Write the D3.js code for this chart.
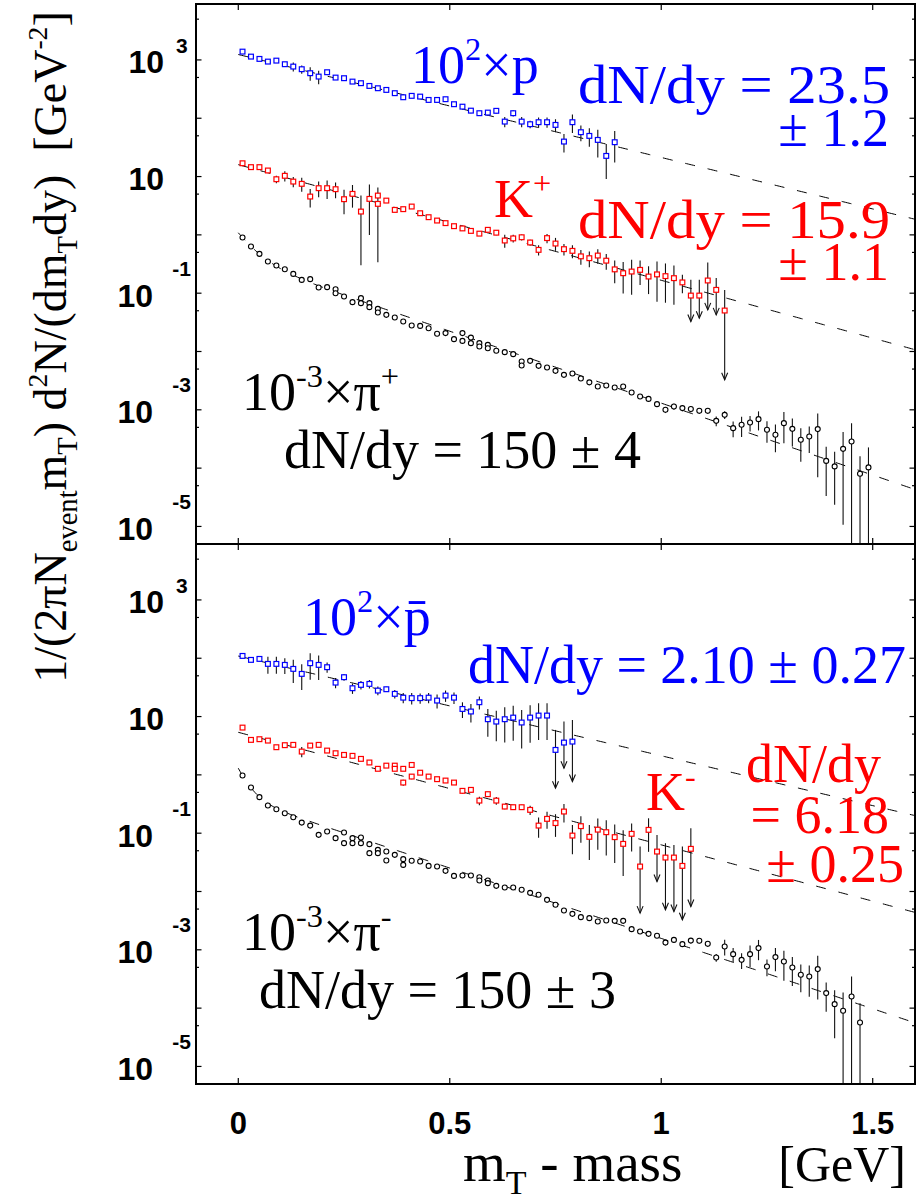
<!DOCTYPE html>
<html>
<head>
<meta charset="utf-8">
<script src="https://cdn.jsdelivr.net/npm/d3@7"></script>
<style>
  html, body { margin: 0; padding: 0; background: #fff; }
  svg { display: block; }
  text { white-space: pre; }
</style>
</head>
<body>
<svg id="chart" width="916" height="1200"></svg>
<script>
// Transverse-mass spectra, [m_T - mass (GeV), yield, relative uncertainty]

const protonRows = [
  [0.01,1388,0.04],[0.03,1140,0.04],[0.05,1041,0.04],[0.07,936,0.05],[0.09,973,0.05],[0.11,844,0.08],
  [0.13,769,0.18],[0.15,693,0.16],[0.17,592,0.26],[0.19,518,0.26],[0.21,615,0.06],[0.23,498,0.06],
  [0.25,486,0.06],[0.27,425,0.06],[0.29,399,0.06],[0.31,358,0.07],[0.33,327,0.08],[0.35,306,0.08],
  [0.37,269,0.08],[0.39,229,0.08],[0.41,242,0.08],[0.43,235,0.08],[0.45,206,0.09],[0.47,206,0.09],
  [0.49,212,0.09],[0.51,174,0.09],[0.53,158,0.1],[0.55,135,0.1],[0.57,122,0.1],[0.59,125,0.1],
  [0.61,134,0.1],[0.63,87.6,0.2],[0.65,122,0.12],[0.67,87.6,0.2],[0.69,79,0.15],[0.71,85.5,0.2],
  [0.73,85.5,0.2],[0.75,76.9,0.25],[0.77,39.8,0.35],[0.79,85.5,0.35],[0.81,57.6,0.3],[0.83,49.8,0.35],
  [0.85,42.5,0.5],[0.87,22.6,0.6],[0.89,38.8,0.55]
];

const kaonPlusRows = [
  [0.01,16.9,0.04],[0.03,14.5,0.04],[0.05,14.5,0.05],[0.07,12.7,0.06],[0.09,9.0,0.15],[0.11,10.3,0.2],
  [0.13,8.2,0.2],[0.15,7.5,0.27],[0.17,4.54,0.35],[0.19,6.32,0.3],[0.21,6.32,0.35],[0.23,6.07,0.3],
  [0.25,4.09,0.45],[0.27,5.05,0.42],[0.29,2.51,0.88],[0.31,4.14,0.76],[0.33,4.72,0.1],[0.33,3.4,0.9],
  [0.35,3.87,0.08],[0.37,2.68,0.08],[0.39,2.76,0.08],[0.41,3.06,0.08],[0.43,2.35,0.08],[0.45,2.01,0.08],
  [0.47,1.76,0.08],[0.49,1.59,0.08],[0.51,1.41,0.08],[0.53,1.29,0.08],[0.55,1.17,0.08],[0.57,1.05,0.08],
  [0.59,1.22,0.08],[0.61,1.09,0.1],[0.63,0.80,0.25],[0.65,0.87,0.15],[0.67,0.91,0.12],[0.69,0.74,0.12],
  [0.71,0.553,0.2],[0.73,0.88,0.18],[0.75,0.71,0.25],[0.77,0.569,0.22],[0.79,0.532,0.25],[0.81,0.428,0.28],
  [0.83,0.398,0.3],[0.85,0.442,0.28],[0.87,0.361,0.3],[0.89,0.256,0.42],[0.91,0.22,0.55],[0.93,0.235,0.6],
  [0.95,0.251,0.45],[0.97,0.193,0.5],[0.99,0.21,0.66],[1.01,0.196,0.65],[1.03,0.181,0.65],[1.05,0.153,0.35],
  [1.07,0.091,0.86],[1.09,0.091,0.86],[1.11,0.165,1.04],[1.13,0.114,0.59],[1.15,0.0504,1.26]
];
// [m_T - mass, lower end of the arrow]
const kaonPlusLimits = [[1.07,0.0326],[1.09,0.0373],[1.11,0.0518],[1.13,0.0425],[1.15,0.00327]];

const pionPlusRows = [
  [0.01,0.899,0.03],[0.03,0.630,0.03],[0.05,0.472,0.03],[0.07,0.349,0.03],[0.09,0.298,0.03],[0.11,0.258,0.03],
  [0.13,0.214,0.03],[0.15,0.169,0.03],[0.17,0.174,0.03],[0.19,0.125,0.03],[0.21,0.127,0.03],[0.23,0.117,0.03],
  [0.23,0.100,0.03],[0.25,0.0875,0.03],[0.27,0.0702,0.03],[0.29,0.0822,0.03],[0.29,0.0675,0.03],[0.31,0.0675,0.03],
  [0.31,0.0576,0.03],[0.33,0.0539,0.03],[0.33,0.0466,0.03],[0.35,0.0425,0.03],[0.37,0.0382,0.03],[0.39,0.0327,0.03],
  [0.41,0.0279,0.03],[0.43,0.0275,0.03],[0.45,0.0251,0.03],[0.47,0.0201,0.03],[0.49,0.0207,0.03],[0.51,0.0163,0.03],
  [0.53,0.0207,0.03],[0.53,0.0152,0.03],[0.55,0.0173,0.03],[0.55,0.0139,0.03],[0.57,0.0139,0.03],[0.57,0.0122,0.03],
  [0.59,0.0130,0.03],[0.59,0.0114,0.03],[0.61,0.0103,0.03],[0.63,0.00975,0.03],[0.65,0.00901,0.03],[0.67,0.00673,0.03],
  [0.67,0.00574,0.03],[0.69,0.00692,0.03],[0.71,0.00568,0.03],[0.73,0.00531,0.03],[0.75,0.00466,0.04],[0.77,0.00398,0.04],
  [0.79,0.00419,0.04],[0.81,0.00344,0.06],[0.83,0.00296,0.06],[0.85,0.00251,0.06],[0.87,0.00261,0.06],[0.89,0.00241,0.06],
  [0.91,0.00251,0.06],[0.93,0.00198,0.06],[0.95,0.00169,0.06],[0.97,0.00154,0.08],[0.99,0.00125,0.08],[1.01,0.00100,0.12],
  [1.03,0.00114,0.12],[1.05,0.00107,0.12],[1.07,0.00103,0.12],[1.09,0.000962,0.12],[1.11,0.000962,0.12],[1.13,0.000647,0.19],
  [1.15,0.000820,0.15],[1.17,0.000485,0.3],[1.19,0.000553,0.38],[1.21,0.000605,0.3],[1.23,0.000692,0.36],[1.25,0.000454,0.4],
  [1.27,0.000373,0.5],[1.29,0.000591,0.55],[1.31,0.000472,0.5],[1.33,0.000306,0.58],[1.35,0.000348,0.48],[1.37,0.000467,0.85],
  [1.39,0.000133,0.75],[1.41,0.000107,0.78],[1.43,0.000214,0.95],[1.45,0.000286,1.05],[1.47,0.0000800,1.0],[1.49,0.000103,1.2]
];

const antiprotonRows = [
  [0.01,109.6,0.08],[0.03,93.7,0.08],[0.05,97.4,0.1],[0.07,80.0,0.32],[0.09,80.0,0.32],[0.11,76.9,0.3],
  [0.13,65.7,0.43],[0.15,53.9,0.47],[0.17,82.2,0.48],[0.19,76.9,0.45],[0.21,70.2,0.2],[0.23,38.2,0.2],
  [0.25,47.3,0.13],[0.27,30.6,0.2],[0.29,34.9,0.17],[0.31,36.3,0.17],[0.33,27.9,0.17],[0.35,29.4,0.1],
  [0.37,24.5,0.17],[0.39,21.1,0.2],[0.41,20.7,0.22],[0.43,20.7,0.2],[0.45,21.1,0.2],[0.47,18.8,0.27],
  [0.49,22.9,0.22],[0.51,21.1,0.22],[0.53,13.5,0.3],[0.55,12.2,0.35],[0.57,17.6,0.25],[0.59,9.0,0.5],
  [0.61,8.2,0.54],[0.63,9.0,0.6],[0.65,9.6,0.6],[0.67,7.9,0.64],[0.69,9.6,0.63],[0.71,10.4,0.62],
  [0.73,10.4,0.62],[0.75,2.68,1.2],[0.77,3.58,1.29],[0.79,3.72,1.35]
];
const antiprotonLimits = [[0.75,0.591],[0.77,1.30],[0.79,0.767]];

const kaonMinusRows = [
  [0.01,6.47,0.05],[0.03,3.98,0.05],[0.05,4.09,0.05],[0.07,3.87,0.05],[0.09,2.98,0.06],[0.11,3.23,0.06],
  [0.13,3.27,0.06],[0.15,2.51,0.2],[0.17,3.18,0.08],[0.19,3.27,0.08],[0.21,2.61,0.08],[0.23,2.35,0.08],
  [0.25,2.20,0.08],[0.27,2.12,0.08],[0.29,1.88,0.08],[0.31,1.63,0.08],[0.33,1.27,0.08],[0.35,1.44,0.08],
  [0.37,1.44,0.08],[0.37,1.27,0.08],[0.39,1.27,0.08],[0.39,0.738,0.12],[0.41,1.48,0.08],[0.41,0.935,0.1],
  [0.43,1.09,0.08],[0.45,0.935,0.08],[0.47,0.844,0.08],[0.49,0.799,0.08],[0.51,0.738,0.08],[0.53,0.532,0.1],
  [0.55,0.553,0.1],[0.57,0.362,0.17],[0.59,0.467,0.1],[0.61,0.362,0.15],[0.63,0.286,0.1],[0.65,0.279,0.1],
  [0.67,0.279,0.1],[0.69,0.251,0.18],[0.71,0.135,0.38],[0.73,0.176,0.32],[0.75,0.149,0.42],[0.77,0.235,0.35],
  [0.79,0.091,0.52],[0.81,0.132,0.48],[0.83,0.0865,0.6],[0.85,0.115,0.55],[0.87,0.104,0.6],[0.89,0.0855,0.64],
  [0.91,0.0656,0.72],[0.93,0.0975,0.5],[0.95,0.0268,1.2],[0.97,0.114,0.58],[0.99,0.0484,0.93],[1.01,0.0382,0.76],
  [1.03,0.0382,0.65],[1.05,0.0275,1.14],[1.07,0.0539,1.26]
];
const kaonMinusLimits = [[0.95,0.00426],[0.99,0.0148],[1.01,0.00485],[1.03,0.00453],[1.05,0.00327],[1.07,0.00552]];

const pionMinusRows = [
  [0.01,0.973,0.03],[0.03,0.606,0.03],[0.05,0.415,0.03],[0.07,0.298,0.03],[0.09,0.258,0.03],[0.11,0.220,0.03],
  [0.13,0.188,0.03],[0.15,0.152,0.03],[0.17,0.135,0.03],[0.19,0.0936,0.03],[0.21,0.107,0.03],[0.23,0.0822,0.03],
  [0.25,0.1026,0.03],[0.25,0.0675,0.03],[0.27,0.0822,0.03],[0.27,0.0675,0.03],[0.29,0.0841,0.03],[0.29,0.0675,0.03],
  [0.31,0.0649,0.03],[0.31,0.0455,0.03],[0.33,0.0518,0.03],[0.33,0.0455,0.03],[0.35,0.0484,0.03],[0.35,0.0340,0.03],
  [0.37,0.0425,0.03],[0.39,0.0359,0.03],[0.39,0.0286,0.03],[0.41,0.0336,0.03],[0.43,0.0327,0.03],[0.45,0.0275,0.03],
  [0.47,0.0268,0.03],[0.49,0.0226,0.03],[0.51,0.0185,0.03],[0.53,0.0188,0.03],[0.55,0.0188,0.03],[0.57,0.0176,0.03],
  [0.57,0.0154,0.03],[0.59,0.0154,0.03],[0.59,0.0139,0.03],[0.61,0.0125,0.03],[0.63,0.0117,0.03],[0.65,0.0117,0.03],
  [0.67,0.0107,0.03],[0.69,0.00948,0.03],[0.71,0.00877,0.03],[0.73,0.00719,0.03],[0.75,0.00591,0.04],[0.77,0.00472,0.04],
  [0.79,0.00414,0.04],[0.81,0.00363,0.05],[0.83,0.00349,0.05],[0.85,0.00305,0.05],[0.87,0.00318,0.05],[0.89,0.00314,0.05],
  [0.91,0.00314,0.05],[0.93,0.00226,0.06],[0.95,0.00206,0.06],[0.97,0.00188,0.08],[0.99,0.00174,0.08],[1.01,0.00133,0.1],
  [1.03,0.00148,0.1],[1.05,0.00125,0.1],[1.07,0.00144,0.1],[1.09,0.00143,0.1],[1.11,0.00127,0.12],[1.13,0.000738,0.15],
  [1.15,0.00114,0.3],[1.17,0.000843,0.27],[1.19,0.000673,0.3],[1.21,0.000843,0.4],[1.23,0.00107,0.38],[1.25,0.000518,0.32],
  [1.27,0.000750,0.43],[1.29,0.000630,0.53],[1.31,0.000497,0.52],[1.33,0.000373,0.5],[1.35,0.000348,0.55],[1.37,0.000467,0.7],
  [1.39,0.000181,0.52],[1.41,0.000117,0.74],[1.43,0.0000900,1.05],[1.45,0.000158,1.2],[1.47,0.0000567,1.14]
];

// Exponential fits, sum of [amplitude, inverse slope (GeV)]
const protonFit = [[1238, 0.246]];
const kaonPlusFit = [[16.0, 0.219]];
const pionPlusFit = [[0.705, 0.037], [0.382, 0.176]];
const antiprotonFit = [[109, 0.254]];
const kaonMinusFit = [[5.37, 0.225]];
const pionMinusFit = [[0.894, 0.024], [0.406, 0.180]];

const xTicks = [0, 0.5, 1, 1.5];
const xTickLabels = ["0", "0.5", "1", "1.5"];
const yLabelExponents = [3, 1, -1, -3, -5];

const BLUE = "#0000ff", RED = "#ff0000", BLACK = "#000000";
const SERIF = "'Liberation Serif','Times New Roman',Times,serif";
const SANS = "'Liberation Sans',Arial,Helvetica,sans-serif";

const svg = d3.select("#chart");
const x = d3.scaleLinear().domain([-0.1, 1.6]).range([196, 915]);
const yDomain = [5e-6, 9.1e3];

// rich text: parts are [string, kind] with kind "", "sup" or "sub"
function rich(sel, parts, size) {
  let shift = 0;
  parts.forEach(([s, kind]) => {
    let target = 0, fs = size;
    if (kind === "sup") { target = -0.42 * size; fs = 0.6 * size; }
    else if (kind === "sub") { target = 0.24 * size; fs = 0.62 * size; }
    sel.append("tspan").text(s).attr("dy", target - shift).attr("font-size", fs);
    shift = target;
  });
  return sel;
}

function label(g, px, py, parts, opts) {
  const t = g.append("text")
    .attr("x", px).attr("y", py)
    .attr("font-family", opts.family || SERIF)
    .attr("font-size", opts.size)
    .attr("font-weight", opts.weight || "normal")
    .attr("fill", opts.color || BLACK)
    .attr("text-anchor", opts.anchor || "start");
  if (opts.width) t.attr("textLength", opts.width).attr("lengthAdjust", "spacingAndGlyphs");
  if (opts.transform) t.attr("transform", opts.transform);
  return rich(t, parts, opts.size);
}

function drawPanel(top, bottom, series, texts) {
  const y = d3.scaleLog().domain(yDomain).range([bottom, top]);
  const [xl, xr] = x.range();
  const id = "clip" + top;
  svg.append("clipPath").attr("id", id)
    .append("rect").attr("x", xl).attr("y", top).attr("width", xr - xl).attr("height", bottom - top);
  const plot = svg.append("g").attr("clip-path", `url(#${id})`);

  // fitted curves
  const grid = d3.range(0, 1.6001, 0.004);
  series.forEach(s => {
    const f = v => s.fit.reduce((a, [A, T]) => a + A * Math.exp(-v / T), 0);
    plot.append("path")
      .attr("d", d3.line().x(v => x(v)).y(v => y(f(v)))(grid))
      .attr("fill", "none").attr("stroke", BLACK).attr("stroke-width", 1)
      .attr("stroke-dasharray", "10,13");
  });

  // error bars and upper-limit arrows
  series.forEach(s => {
    const limits = new Map((s.limits || []).map(([xv, tip]) => [xv, tip]));
    s.rows.forEach(([xv, yv, rel]) => {
      const px = x(xv);
      const hi = y(yv * (1 + rel));
      if (limits.has(xv)) {
        const tipY = y(limits.get(xv));
        plot.append("line").attr("x1", px).attr("x2", px).attr("y1", hi).attr("y2", tipY)
          .attr("stroke", "#111").attr("stroke-width", 1.1);
        plot.append("path").attr("d", `M${px - 3},${tipY - 7}L${px},${tipY}L${px + 3},${tipY - 7}`)
          .attr("fill", "none").attr("stroke", "#111").attr("stroke-width", 1.1);
      } else {
        const lowVal = yv * (1 - rel);
        const lo = lowVal > yDomain[0] ? y(lowVal) : bottom + 2;
        plot.append("line").attr("x1", px).attr("x2", px).attr("y1", hi).attr("y2", lo)
          .attr("stroke", "#111").attr("stroke-width", 1.1);
      }
    });
  });

  // markers
  series.forEach(s => {
    const g = plot.append("g");
    if (s.shape === "square") {
      g.selectAll("rect").data(s.rows).join("rect")
        .attr("x", d => x(d[0]) - 2.4).attr("y", d => y(d[1]) - 2.4)
        .attr("width", 4.8).attr("height", 4.8)
        .attr("fill", "#fff").attr("stroke", s.color).attr("stroke-width", 1.2);
    } else {
      g.selectAll("circle").data(s.rows).join("circle")
        .attr("cx", d => x(d[0])).attr("cy", d => y(d[1])).attr("r", 2.5)
        .attr("fill", "#fff").attr("stroke", s.color).attr("stroke-width", 1.1);
    }
  });

  // frame
  svg.append("rect").attr("x", xl).attr("y", top).attr("width", xr - xl).attr("height", bottom - top)
    .attr("fill", "none").attr("stroke", BLACK).attr("stroke-width", 2);

  // y ticks: decades and 5x decades, on both sides
  const axes = svg.append("g").attr("stroke", BLACK).attr("stroke-width", 1.2);
  for (let n = -6; n <= 4; n++) {
    [[Math.pow(10, n), 5.5], [5 * Math.pow(10, n), 3]].forEach(([v, len]) => {
      if (v < yDomain[0] || v > yDomain[1]) return;
      const py = y(v);
      axes.append("line").attr("x1", xl).attr("x2", xl + len).attr("y1", py).attr("y2", py);
      axes.append("line").attr("x1", xr).attr("x2", xr - len).attr("y1", py).attr("y2", py);
    });
  }
  // x ticks, top and bottom of the frame
  xTicks.forEach(v => {
    const px = x(v);
    axes.append("line").attr("x1", px).attr("x2", px).attr("y1", bottom).attr("y2", bottom - 6);
    axes.append("line").attr("x1", px).attr("x2", px).attr("y1", top).attr("y2", top + 6);
  });

  // y tick labels: 10 with an exponent
  yLabelExponents.forEach(n => {
    const py = y(Math.pow(10, n));
    const lab = svg.append("g").attr("font-family", SANS).attr("font-weight", "bold").attr("fill", BLACK);
    if (n === 1) {
      lab.append("text").attr("x", 164).attr("y", py + 13.5).attr("text-anchor", "end")
        .attr("font-size", 32).text("10");
    } else if (n > 1) {
      lab.append("text").attr("x", 164).attr("y", py + 13).attr("text-anchor", "end")
        .attr("font-size", 32).text("10");
      lab.append("text").attr("x", 176).attr("y", py - 7).attr("text-anchor", "start")
        .attr("font-size", 21).text(String(n));
    } else {
      lab.append("text").attr("x", 153).attr("y", py + 13.5).attr("text-anchor", "end")
        .attr("font-size", 32).text("10");
      lab.append("text").attr("x", 191).attr("y", py - 17.5).attr("text-anchor", "end")
        .attr("font-size", 21).text(String(n));
    }
  });

  // annotations
  const ann = svg.append("g");
  texts.forEach(t => label(ann, t.x, t.y, t.parts, {
    size: t.size || 54, color: t.color, anchor: t.anchor, width: t.width
  }));
}

drawPanel(4, 544, [
  { rows: protonRows, fit: protonFit, shape: "square", color: BLUE },
  { rows: kaonPlusRows, fit: kaonPlusFit, limits: kaonPlusLimits, shape: "square", color: RED },
  { rows: pionPlusRows, fit: pionPlusFit, shape: "circle", color: BLACK }
], [
  { x: 411, y: 83, color: BLUE, parts: [["10", ""], ["2", "sup"], ["\u00d7p", ""]] },
  { x: 578, y: 103, color: BLUE, width: 312, parts: [["dN/dy = 23.5", ""]] },
  { x: 889, y: 146, color: BLUE, anchor: "end", parts: [["\u00b1 1.2", ""]] },
  { x: 494, y: 217, color: RED, parts: [["K", ""], ["+", "sup"]] },
  { x: 578, y: 238, color: RED, width: 312, parts: [["dN/dy = 15.9", ""]] },
  { x: 889, y: 280, color: RED, anchor: "end", parts: [["\u00b1 1.1", ""]] },
  { x: 242, y: 410, color: BLACK, parts: [["10", ""], ["-3", "sup"], ["\u00d7\u03c0", ""], ["+", "sup"]] },
  { x: 641, y: 468, color: BLACK, anchor: "end", parts: [["dN/dy = 150 \u00b1 4", ""]] }
]);

drawPanel(544, 1084, [
  { rows: antiprotonRows, fit: antiprotonFit, limits: antiprotonLimits, shape: "square", color: BLUE },
  { rows: kaonMinusRows, fit: kaonMinusFit, limits: kaonMinusLimits, shape: "square", color: RED },
  { rows: pionMinusRows, fit: pionMinusFit, shape: "circle", color: BLACK }
], [
  { x: 303, y: 635, color: BLUE, parts: [["10", ""], ["2", "sup"], ["\u00d7p\u0304", ""]] },
  { x: 906, y: 683, color: BLUE, anchor: "end", parts: [["dN/dy = 2.10 \u00b1 0.27", ""]] },
  { x: 646, y: 810, color: RED, parts: [["K", ""], ["-", "sup"]] },
  { x: 881, y: 782, color: RED, anchor: "end", parts: [["dN/dy", ""]] },
  { x: 889, y: 833, color: RED, anchor: "end", parts: [["= 6.18", ""]] },
  { x: 904, y: 882, color: RED, anchor: "end", parts: [["\u00b1 0.25", ""]] },
  { x: 242, y: 950, color: BLACK, parts: [["10", ""], ["-3", "sup"], ["\u00d7\u03c0", ""], ["-", "sup"]] },
  { x: 616, y: 1008, color: BLACK, anchor: "end", parts: [["dN/dy = 150 \u00b1 3", ""]] }
]);

// x tick labels
const xl = svg.append("g").attr("font-family", SANS).attr("font-weight", "bold").attr("font-size", 31);
xTicks.forEach((v, i) => {
  xl.append("text").attr("x", x(v)).attr("y", 1134).attr("text-anchor", "middle").text(xTickLabels[i]);
});

// axis titles
label(svg, 463, 1181, [["m", ""], ["T", "sub"], [" - mass", ""]], { size: 55 });
label(svg, 906, 1181, [["[GeV]", ""]], { size: 50, anchor: "end" });
label(svg, 0, 0, [
  ["1/(2\u03c0N", ""], ["event", "sub"], ["m", ""], ["T", "sub"], [") d", ""], ["2", "sup"],
  ["N/(dm", ""], ["T", "sub"], ["dy)  [GeV", ""], ["-2", "sup"], ["]", ""]
], { size: 46, anchor: "middle", transform: "translate(66,347) rotate(-90)" });
</script>
</body>
</html>
